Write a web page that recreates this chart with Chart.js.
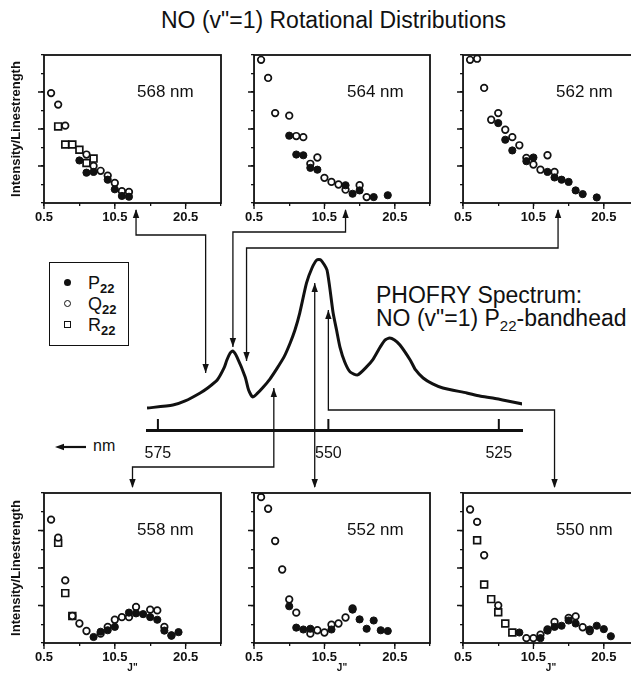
<!DOCTYPE html>
<html>
<head>
<meta charset="utf-8">
<script src="https://cdn.jsdelivr.net/npm/chart.js@4.4.1/dist/chart.umd.min.js"></script>
<style>
  body { margin: 0; background: #fff; width: 631px; height: 674px; overflow: hidden; position: relative;
         font-family: "Liberation Sans", Arial, sans-serif; color: #111; }
  canvas.c { position: absolute; }
  .t { position: absolute; white-space: nowrap; }
  .t sub { font-size: 15px; vertical-align: -5px; line-height: 0; }
  #legend { position: absolute; left: 49px; top: 262px; width: 78px; height: 82px; border: 1.5px solid #111; }
  #legend .row { position: absolute; left: 0; height: 20px; font-size: 18px; line-height: 20px; }
  #legend .mk { position: absolute; left: 14px; top: 6px; width: 7px; height: 7px; box-sizing: border-box; }
  #legend .lbl { position: absolute; left: 38px; top: 0; white-space: nowrap; }
  #legend sub { font-size: 13px; font-weight: bold; vertical-align: -4px; line-height: 0; }
</style>
</head>
<body>
<div class="t" style="left:161px;top:9px;font-size:23px;line-height:1">NO (v"=1) Rotational Distributions</div>
<div class="t" style="left:376px;top:284px;font-size:23px;line-height:23px">PHOFRY Spectrum:<br>NO (v"=1) P<sub>22</sub>-bandhead</div>
<div class="t" style="left:93px;top:438px;font-size:16px;line-height:1">nm</div>
<div id="legend">
  <div class="row" style="top:10px"><span class="mk" style="background:#111;border-radius:50%"></span><span class="lbl">P<sub>22</sub></span></div>
  <div class="row" style="top:31px"><span class="mk" style="border:1.6px solid #111;border-radius:50%"></span><span class="lbl">Q<sub>22</sub></span></div>
  <div class="row" style="top:52px"><span class="mk" style="border:1.6px solid #111"></span><span class="lbl">R<sub>22</sub></span></div>
</div>
<canvas id="arrows" class="c" width="631" height="674" style="left:0;top:0;z-index:5"></canvas>
<script>
// tick values
const jTicks = [0.5, 5.5, 10.5, 15.5, 20.5, 25.5]
const jLabelled = [0.5, 10.5, 20.5]
const yMajor = [1, 2, 3]
const nmTicks = [575, 550, 525]

// 568 nm
const p568J = [5.5, 6.5, 7.5, 9.5, 10.5, 11.5, 12.5]
const p568V = [1.15, 0.82, 0.84, 0.63, 0.37, 0.19, 0.17]
const q568J = [1.5, 2.5, 3.5, 6.5, 7.5, 8.5, 9.5, 10.5, 11.5, 12.5]
const q568V = [2.97, 2.66, 2.09, 1.31, 1.0, 0.87, 0.74, 0.54, 0.32, 0.3]
const r568J = [2.5, 3.5, 4.5, 5.5, 6.5, 7.5]
const r568V = [2.07, 1.58, 1.58, 1.44, 1.08, 1.2]

// 564 nm
const p564J = [5.5, 6.5, 7.5, 8.5, 9.5, 13.5, 14.5, 15.5, 17.5, 19.5]
const p564V = [1.82, 1.31, 1.29, 0.95, 0.9, 0.48, 0.25, 0.34, 0.16, 0.21]
const q564J = [1.5, 2.5, 3.5, 5.5, 6.5, 7.5, 8.5, 9.5, 10.5, 11.5, 12.5, 13.5, 15.5, 16.5]
const q564V = [3.87, 3.38, 2.43, 2.36, 1.81, 1.78, 1.06, 1.23, 0.68, 0.57, 0.5, 0.36, 0.48, 0.16]

// 562 nm
const p562J = [5.5, 6.5, 7.5, 9.5, 10.5, 12.5, 13.5, 14.5, 15.5, 16.5, 17.5, 19.5]
const p562V = [2.16, 1.71, 1.42, 1.13, 1.23, 0.84, 0.69, 0.63, 0.57, 0.34, 0.24, 0.15]
const q562J = [1.5, 2.5, 3.5, 4.5, 5.5, 6.5, 7.5, 8.5, 9.5, 10.5, 11.5, 12.5, 13.5]
const q562V = [3.87, 3.9, 3.11, 2.25, 2.43, 1.98, 1.78, 1.56, 1.22, 1.04, 0.9, 1.29, 0.84]

// 558 nm
const p558J = [7.5, 8.5, 9.5, 10.5, 12.5, 13.5, 14.5, 15.5, 16.5, 17.5, 18.5, 19.5]
const p558V = [0.16, 0.3, 0.34, 0.43, 0.81, 0.79, 0.77, 0.69, 0.62, 0.33, 0.2, 0.29]
const q558J = [1.5, 2.5, 3.5, 4.5, 5.5, 6.5, 8.5, 9.5, 10.5, 11.5, 12.5, 13.5, 15.5, 16.5, 17.5, 18.5]
const q558V = [3.29, 2.81, 1.67, 0.72, 0.52, 0.32, 0.25, 0.43, 0.62, 0.69, 0.69, 0.96, 0.89, 0.87, 0.43, 0.2]
const r558J = [2.5, 3.5, 4.5]
const r558V = [2.67, 1.33, 0.72]

// 552 nm
const p552J = [5.5, 6.5, 7.5, 8.5, 11.5, 14.5, 15.5, 16.5, 17.5, 18.5, 19.5]
const p552V = [0.98, 0.41, 0.36, 0.38, 0.36, 0.89, 0.63, 0.38, 0.6, 0.34, 0.32]
const q552J = [1.5, 2.5, 3.5, 4.5, 5.5, 6.5, 8.5, 9.5, 10.5, 11.5, 12.5, 13.5, 14.5]
const q552V = [3.89, 3.58, 2.72, 1.96, 1.16, 0.81, 0.25, 0.34, 0.28, 0.49, 0.52, 0.68, 0.92]

// 550 nm
const p550J = [8.5, 11.5, 12.5, 13.5, 14.5, 15.5, 16.5, 18.5, 19.5, 20.5, 21.5]
const p550V = [0.28, 0.13, 0.33, 0.43, 0.46, 0.6, 0.52, 0.36, 0.46, 0.37, 0.18]
const q550J = [1.5, 2.5, 3.5, 5.5, 9.5, 10.5, 11.5, 12.5, 13.5, 15.5, 16.5, 17.5, 18.5]
const q550V = [3.56, 3.23, 2.34, 1.0, 0.13, 0.13, 0.22, 0.36, 0.56, 0.67, 0.71, 0.42, 0.32]
const r550J = [2.5, 3.5, 4.5, 5.5, 6.5, 7.5]
const r550V = [2.74, 1.56, 1.17, 0.82, 0.52, 0.28]

// PHOFRY spectrum (wavelength, intensity)
const specNm = [576.6, 572.8, 571.0, 568.8, 567.7, 566.3, 565.3, 564.9, 564.4, 564.0, 563.4, 562.2, 561.7, 561.1,
  560.5, 559.6, 558.6, 557.6, 556.5, 555.6, 554.9, 554.2, 553.2, 552.4, 551.7, 551.1, 550.2, 549.3, 548.8, 548.3,
  547.6, 546.8, 545.7, 544.4, 543.5, 542.4, 541.7, 541.0, 540.3, 539.5, 538.0, 537.2, 536.1, 534.7, 533.2, 529.7,
  527.8, 525.9, 523.7, 521.5]
const specI = [1.29, 1.47, 1.71, 2.18, 2.47, 2.94, 3.65, 4.1, 4.53, 4.65, 4.29, 3.12, 2.35, 1.94,
  2.12, 2.5, 2.98, 3.58, 4.3, 5.12, 5.88, 6.88, 8.65, 9.53, 10.0, 10.0, 9.41, 6.88, 5.88, 4.88,
  4.0, 3.41, 3.24, 3.71, 4.12, 4.88, 5.29, 5.41, 5.29, 5.0, 4.12, 3.53, 3.06, 2.71, 2.47, 2.18,
  2.0, 1.88, 1.71, 1.53]

const FONT = '"Liberation Sans", Arial, sans-serif'
Chart.defaults.font.family = FONT
Chart.defaults.color = '#111'

const PANEL_W = 177
const panels = [
  {nm: 568, left: 44, top: 55, h: 148, yTitle: true, xTitle: false, p: [p568J, p568V], q: [q568J, q568V], r: [r568J, r568V]},
  {nm: 564, left: 253, top: 55, h: 148, yTitle: false, xTitle: false, p: [p564J, p564V], q: [q564J, q564V]},
  {nm: 562, left: 462, top: 55, h: 148, yTitle: false, xTitle: false, p: [p562J, p562V], q: [q562J, q562V]},
  {nm: 558, left: 44, top: 493, h: 150, yTitle: true, xTitle: true, p: [p558J, p558V], q: [q558J, q558V], r: [r558J, r558V]},
  {nm: 552, left: 253, top: 493, h: 150, yTitle: false, xTitle: true, p: [p552J, p552V], q: [q552J, q552V]},
  {nm: 550, left: 462, top: 493, h: 150, yTitle: false, xTitle: true, p: [p550J, p550V], q: [q550J, q550V], r: [r550J, r550V]},
]

const points = (js, vs) => js.map((j, i) => ({x: j, y: vs[i]}))

const addCanvas = (left, top, width, height) => {
  const cv = document.createElement('canvas')
  cv.className = 'c'
  cv.width = width
  cv.height = height
  cv.style.left = left + 'px'
  cv.style.top = top + 'px'
  document.body.appendChild(cv)
  return cv
}

const makePanel = (cfg) => {
  const padL = cfg.yTitle ? 44 : 12
  const padB = cfg.xTitle ? 34 : 22
  const cv = addCanvas(cfg.left - padL, cfg.top - 8, padL + PANEL_W + 8, 8 + cfg.h + padB)

  const datasets = [
    {label: 'P22', data: points(...cfg.p), pointStyle: 'circle', pointRadius: 3.6,
      backgroundColor: '#111', borderColor: '#111', borderWidth: 1},
    {label: 'Q22', data: points(...cfg.q), pointStyle: 'circle', pointRadius: 3.3,
      backgroundColor: '#fff', borderColor: '#111', borderWidth: 1.7},
  ]
  if (cfg.r) {
    datasets.push({label: 'R22', data: points(...cfg.r), pointStyle: 'rect', pointRadius: 4.8,
      backgroundColor: '#fff', borderColor: '#111', borderWidth: 1.7})
  }

  // box round the plot, longer major ticks and the wavelength label
  const frame = {
    id: 'frame',
    afterDraw(chart) {
      const {ctx, chartArea: a, scales} = chart
      ctx.save()
      ctx.strokeStyle = '#111'
      ctx.lineWidth = 1.8
      ctx.strokeRect(a.left, a.top, a.right - a.left, a.bottom - a.top)
      ctx.lineWidth = 1.3
      ctx.beginPath()
      yMajor.forEach(v => {
        const y = scales.y.getPixelForValue(v)
        ctx.moveTo(a.left - 6, y)
        ctx.lineTo(a.left, y)
      })
      jLabelled.forEach(v => {
        const x = scales.x.getPixelForValue(v)
        ctx.moveTo(x, a.bottom)
        ctx.lineTo(x, a.bottom + 6)
      })
      ctx.stroke()
      ctx.fillStyle = '#111'
      ctx.font = '17px ' + FONT
      ctx.textBaseline = 'middle'
      ctx.fillText(cfg.nm + ' nm', a.left + 93, a.top + 37)
      ctx.restore()
    }
  }

  return new Chart(cv, {
    type: 'scatter',
    data: {datasets},
    plugins: [frame],
    options: {
      responsive: false,
      animation: false,
      events: [],
      layout: {padding: {top: 8, right: 8, left: 0, bottom: 0}},
      plugins: {legend: {display: false}, tooltip: {enabled: false}},
      scales: {
        x: {
          type: 'linear', min: 0.5, max: 25.5,
          afterBuildTicks: (s) => { s.ticks = jTicks.map(v => ({value: v})) },
          afterFit: (s) => { s.height = padB },
          border: {display: false},
          grid: {drawOnChartArea: false, tickLength: 3, color: '#111', lineWidth: 1.3},
          ticks: {
            font: {size: 13, weight: 'bold'}, color: '#111', padding: 4, maxRotation: 0, autoSkip: false,
            callback: (v) => jLabelled.includes(v) ? v.toFixed(1) : ''
          },
          title: {display: cfg.xTitle, text: 'J"', font: {size: 10, weight: 'bold'}, padding: {top: 0, bottom: 3}}
        },
        y: {
          min: 0, max: 4,
          ticks: {display: false, stepSize: 0.5},
          afterFit: (s) => { s.width = padL },
          border: {display: false},
          grid: {drawOnChartArea: false, tickLength: 3, color: '#111', lineWidth: 1.3},
          title: {display: cfg.yTitle, text: 'Intensity/Linestrength', font: {size: 13, weight: 'bold'},
            padding: {top: 9, bottom: 0}, color: '#111'}
        }
      }
    }
  })
}

const panelCharts = panels.map(makePanel)

// spectrum
const specCanvas = addCanvas(120, 230, 420, 240)
const upTicks = {
  id: 'upTicks',
  afterDraw(chart) {
    const {ctx} = chart
    const s = chart.scales.x
    ctx.save()
    ctx.strokeStyle = '#111'
    ctx.lineWidth = 2
    nmTicks.forEach(v => {
      const x = s.getPixelForValue(v)
      ctx.beginPath()
      ctx.moveTo(x, s.top)
      ctx.lineTo(x, s.top - 11)
      ctx.stroke()
    })
    ctx.restore()
  }
}
const spectrum = new Chart(specCanvas, {
  type: 'scatter',
  data: {datasets: [{
    label: 'PHOFRY', data: points(specNm, specI), showLine: true, pointRadius: 0,
    borderColor: '#111', borderWidth: 3, tension: 0.2
  }]},
  plugins: [upTicks],
  options: {
    responsive: false,
    animation: false,
    events: [],
    layout: {padding: {left: 27, right: 18, top: 13, bottom: 0}},
    plugins: {legend: {display: false}, tooltip: {enabled: false}},
    scales: {
      x: {
        type: 'linear', reverse: true, min: 521.6, max: 576.6,
        afterBuildTicks: (s) => { s.ticks = nmTicks.map(v => ({value: v})) },
        afterFit: (s) => { s.height = 40 },
        border: {display: true, color: '#111', width: 3},
        grid: {display: false},
        ticks: {font: {size: 16}, color: '#111', padding: 6, maxRotation: 0, autoSkip: false}
      },
      y: {display: false, min: 0, max: 11}
    }
  }
})

// connecting arrows
const g = document.getElementById('arrows').getContext('2d')
g.strokeStyle = '#111'
g.fillStyle = '#111'
g.lineWidth = 1.3

const pageX = (chart, v) => chart.canvas.offsetLeft + chart.scales.x.getPixelForValue(v)

const polyline = (pts) => {
  g.beginPath()
  g.moveTo(pts[0][0], pts[0][1])
  pts.slice(1).forEach(p => g.lineTo(p[0], p[1]))
  g.stroke()
}

const head = (x, y, dir) => {
  const len = 9, half = 3.2
  g.beginPath()
  g.moveTo(x, y)
  if (dir === 'up') { g.lineTo(x - half, y + len); g.lineTo(x + half, y + len) }
  if (dir === 'down') { g.lineTo(x - half, y - len); g.lineTo(x + half, y - len) }
  if (dir === 'left') { g.lineTo(x + len, y - half); g.lineTo(x + len, y + half) }
  g.closePath()
  g.fill()
}

const topLinks = [
  {panel: 0, j: 13.5, nm: 568, route: 235, tip: 373},
  {panel: 1, j: 13.5, nm: 564, route: 232, tip: 347},
  {panel: 2, j: 14, nm: 562, route: 248, tip: 361},
]
topLinks.forEach(l => {
  const xp = pageX(panelCharts[l.panel], l.j)
  const xs = pageX(spectrum, l.nm)
  polyline([[xp, 210], [xp, l.route], [xs, l.route], [xs, l.tip]])
  head(xp, 209, 'up')
  head(xs, l.tip, 'down')
})

const bottomLinks = [
  {panel: 3, j: 13, nm: 558, route: 467, tip: 388},
  {panel: 4, j: null, nm: 552, route: null, tip: 283},
  {panel: 5, j: 13.5, nm: 550, route: 410, tip: 310},
]
bottomLinks.forEach(l => {
  const xs = pageX(spectrum, l.nm)
  const xp = l.j === null ? xs : pageX(panelCharts[l.panel], l.j)
  const pts = l.route === null ? [[xs, l.tip], [xs, 487]] :
    [[xs, l.tip], [xs, l.route], [xp, l.route], [xp, 487]]
  polyline(pts)
  head(xs, l.tip, 'up')
  head(xp, 488, 'down')
})

// wavelength direction arrow
g.lineWidth = 2.2
polyline([[86, 447], [62, 447]])
head(55, 447, 'left')
</script>
</body>
</html>
